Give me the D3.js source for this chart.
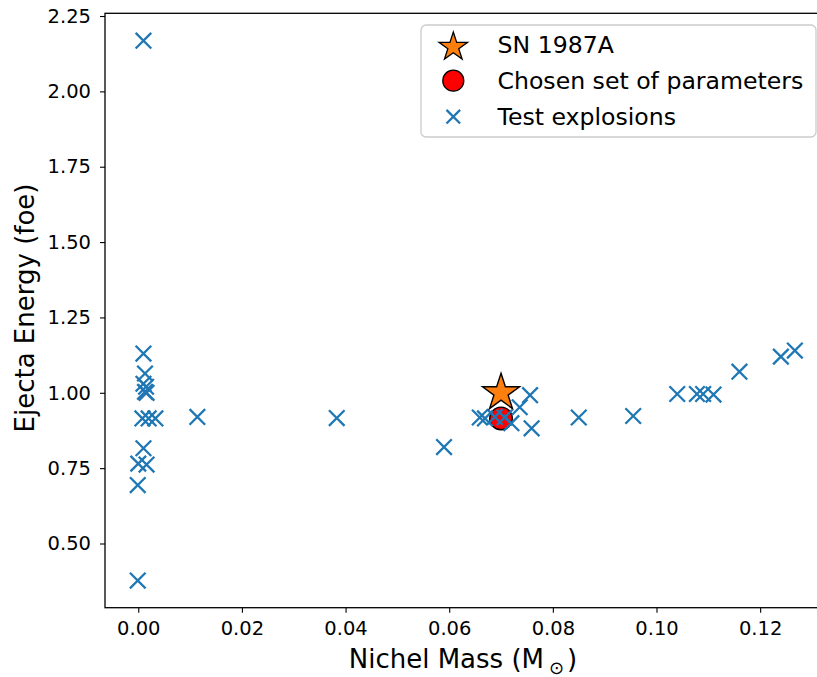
<!DOCTYPE html>
<html>
<head>
<meta charset="utf-8">
<script src="https://cdn.jsdelivr.net/npm/d3@7"></script>
<style>
  body { margin: 0; background: #fff; }
  text { font-family: "DejaVu Sans", sans-serif; fill: #000; }
</style>
</head>
<body>
<script>
// test explosions: Ni mass (Msun) vs ejecta energy (foe)
var testMass = [
  0.0010, 0.0013, 0.0010, 0.0015, 0.0013, 0.0016,
  0.0008, 0.0020, 0.0033, 0.0114,
  0.0010, 0.0000, 0.0016, -0.0001, -0.0001, 0.0010,
  0.0383, 0.0590,
  0.0659, 0.0669, 0.0688, 0.0707, 0.0720, 0.0736, 0.0756, 0.0759,
  0.0850, 0.0955, 0.1040, 0.1078, 0.1090, 0.1110, 0.1160, 0.1240, 0.1267
];
var testEnergy = [
  1.130, 1.064, 1.030, 1.020, 1.003, 1.000,
  0.915, 0.915, 0.915, 0.920,
  0.816, 0.765, 0.762, 0.694, 0.377, 2.168,
  0.916, 0.820,
  0.918, 0.915, 0.920, 0.918, 0.899, 0.952, 0.992, 0.882,
  0.918, 0.923, 0.996, 0.996, 0.996, 0.994, 1.070, 1.120, 1.140
];
var snMass = [0.070], snEnergy = [1.000];
var chosenMass = [0.070], chosenEnergy = [0.915];

var xTicks = [0.00, 0.02, 0.04, 0.06, 0.08, 0.10, 0.12];
var yTicks = [0.50, 0.75, 1.00, 1.25, 1.50, 1.75, 2.00, 2.25];
var legendLabels = ["SN 1987A", "Chosen set of parameters", "Test explosions"];

var W = 817, H = 677;
var margin = {top: 13.3, left: 105, bottom: H - 607.7};
var plotRight = 827;

var svg = d3.select("body").append("svg")
  .attr("width", W).attr("height", H)
  .style("display", "block");

var x = d3.scaleLinear().domain([-0.00642, 0.1329]).range([margin.left, plotRight]);
var y = d3.scaleLinear().domain([0.287, 2.259]).range([H - margin.bottom, margin.top]);

var blue = "#1f77b4";

function starPath(R) {
  var r = R * 0.381966, pts = [];
  for (var i = 0; i < 10; i++) {
    var a = -Math.PI / 2 + i * Math.PI / 5, rr = i % 2 ? r : R;
    pts.push([rr * Math.cos(a), rr * Math.sin(a)]);
  }
  return "M" + pts.join("L") + "Z";
}
function crossPath(h) {
  return "M" + (-h) + "," + (-h) + "L" + h + "," + h + "M" + (-h) + "," + h + "L" + h + "," + (-h);
}

// axes
var xAxis = svg.append("g")
  .attr("transform", "translate(0," + (H - margin.bottom) + ")")
  .call(d3.axisBottom(x).tickValues(xTicks).tickFormat(d3.format(".2f")).tickSize(5).tickPadding(8));
var yAxis = svg.append("g")
  .attr("transform", "translate(" + margin.left + ",0)")
  .call(d3.axisLeft(y).tickValues(yTicks).tickFormat(d3.format(".2f")).tickSize(5).tickPadding(9));
[xAxis, yAxis].forEach(function (g) {
  g.selectAll("text").style("font-size", "19.5px").style("font-family", "DejaVu Sans");
  g.selectAll("line").attr("stroke", "#000").attr("stroke-width", 1.1);
  g.select(".domain").remove();
});

// spines
svg.append("rect")
  .attr("x", margin.left).attr("y", margin.top)
  .attr("width", plotRight - margin.left)
  .attr("height", H - margin.bottom - margin.top)
  .attr("fill", "none").attr("stroke", "#000").attr("stroke-width", 1.3);

// chosen parameters
svg.selectAll(".chosen").data(chosenMass).enter().append("circle")
  .attr("cx", function (d) { return x(d); })
  .attr("cy", function (d, i) { return y(chosenEnergy[i]); })
  .attr("r", 11.3)
  .attr("fill", "#ff0000").attr("stroke", "#000").attr("stroke-width", 1.4);

// test explosions
svg.selectAll(".test").data(testMass).enter().append("path")
  .attr("d", crossPath(7.8))
  .attr("transform", function (d, i) { return "translate(" + x(d) + "," + y(testEnergy[i]) + ")"; })
  .attr("fill", "none").attr("stroke", blue).attr("stroke-width", 2.3);

// SN 1987A
svg.selectAll(".sn").data(snMass).enter().append("path")
  .attr("d", starPath(19.5))
  .attr("transform", function (d, i) { return "translate(" + x(d) + "," + y(snEnergy[i]) + ")"; })
  .attr("fill", "#ff7f0e").attr("stroke", "#000").attr("stroke-width", 1.4)
  .attr("stroke-linejoin", "miter");

// axis labels
svg.append("text")
  .attr("x", 463).attr("y", 668)
  .attr("text-anchor", "middle")
  .style("font-size", "26px")
  .html('Nichel Mass (M<tspan dx="5" dy="6" style="font-size:18px">⊙</tspan><tspan dx="3" dy="-6">)</tspan>');

svg.append("text")
  .attr("transform", "translate(33.5,308) rotate(-90)")
  .attr("text-anchor", "middle")
  .style("font-size", "26px")
  .text("Ejecta Energy (foe)");

// legend
var lg = svg.append("g");
lg.append("rect")
  .attr("x", 421).attr("y", 25).attr("width", 395).attr("height", 112)
  .attr("rx", 5)
  .attr("fill", "#fff").attr("fill-opacity", 0.8)
  .attr("stroke", "#cccccc").attr("stroke-width", 1.3);
var rowY = [45, 80.7, 116.7];
lg.append("path").attr("d", starPath(15))
  .attr("transform", "translate(453.3," + (rowY[0] + 2) + ")")
  .attr("fill", "#ff7f0e").attr("stroke", "#000").attr("stroke-width", 1.3);
lg.append("circle").attr("cx", 453.3).attr("cy", rowY[1]).attr("r", 10.5)
  .attr("fill", "#ff0000").attr("stroke", "#000").attr("stroke-width", 1.3);
lg.append("path").attr("d", crossPath(6.8))
  .attr("transform", "translate(453.3," + rowY[2] + ")")
  .attr("fill", "none").attr("stroke", blue).attr("stroke-width", 2.3);
lg.selectAll(".lt").data(legendLabels).enter().append("text")
  .attr("x", 497.5)
  .attr("y", function (d, i) { return rowY[i]; })
  .attr("dy", "0.36em")
  .style("font-size", "23.6px")
  .text(function (d) { return d; });
</script>
</body>
</html>
